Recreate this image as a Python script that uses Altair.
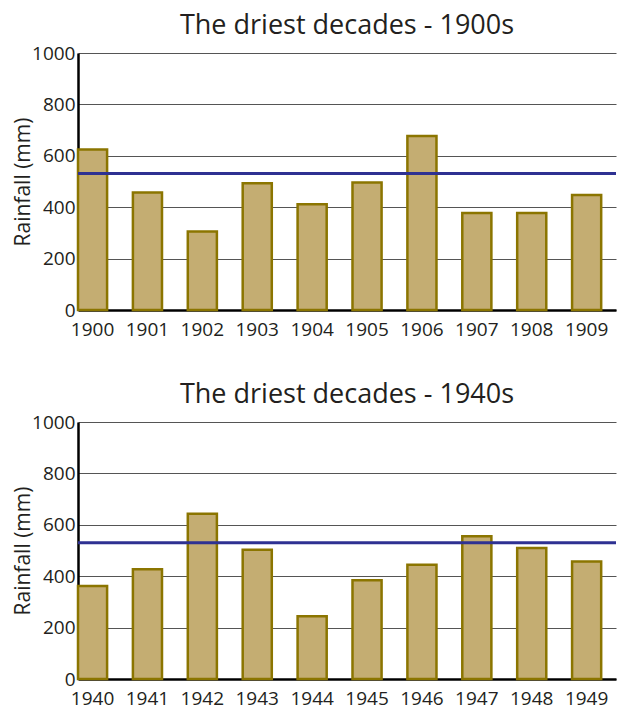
import altair as alt
import pandas as pd

years1 = ["1900", "1901", "1902", "1903", "1904", "1905", "1906", "1907", "1908", "1909"]
rain1 = [625, 457, 305, 493, 411, 496, 677, 377, 377, 447]
mean1 = 531

years2 = ["1940", "1941", "1942", "1943", "1944", "1945", "1946", "1947", "1948", "1949"]
rain2 = [362, 427, 643, 503, 244, 384, 445, 555, 510, 457]
mean2 = 530

y_ticks = list(range(0, 1001, 100))
FONT = "Open Sans"
TEXT = "#231f20"


def panel(years, rain, mean, title):
    df = pd.DataFrame({"Year": years, "Rainfall": rain})
    mdf = pd.DataFrame({"Mean": [mean]})
    bars = alt.Chart(df).mark_bar(
        fill="#c4ad72", stroke="#8b7500", strokeWidth=2.5
    ).encode(
        x=alt.X("Year:N", sort=years, title=None,
                scale=alt.Scale(paddingInner=0.47, paddingOuter=0.135, align=0),
                axis=alt.Axis(labelAngle=0, ticks=False, domainColor="black",
                              domainWidth=2.5, labelFontSize=19, labelPadding=10,
                              labelColor=TEXT, labelFont=FONT, grid=False)),
        y=alt.Y("Rainfall:Q", title="Rainfall (mm)",
                scale=alt.Scale(domain=[0, 1000], nice=False),
                axis=alt.Axis(values=y_ticks, ticks=False, domainColor="black",
                              domainWidth=2.5, grid=True, gridColor="#555",
                              gridWidth=1, labelFontSize=19, labelColor=TEXT,
                              labelFont=FONT, labelPadding=3, format="d",
                              labelExpr="datum.value % 200 == 0 ? datum.label : ''",
                              titleFontSize=21, titleFont=FONT, titleColor=TEXT,
                              titleFontWeight="normal", titlePadding=-2)),
    )
    rule = alt.Chart(mdf).mark_rule(color="#2e3192", strokeWidth=3).encode(
        y="Mean:Q"
    )
    return alt.layer(bars, rule).properties(
        width=538, height=257,
        title=alt.TitleParams(title, fontSize=27, font=FONT, color=TEXT,
                              fontWeight="normal", offset=4),
    )


chart = alt.vconcat(
    panel(years1, rain1, mean1, "The driest decades - 1900s"),
    panel(years2, rain2, mean2, "The driest decades - 1940s"),
    spacing=42,
).properties(
    padding={"top": 4, "left": 4, "right": 0, "bottom": 0}
).configure_view(stroke=None)

chart.save("out.html", embed_options={"renderer": "svg", "actions": False})
